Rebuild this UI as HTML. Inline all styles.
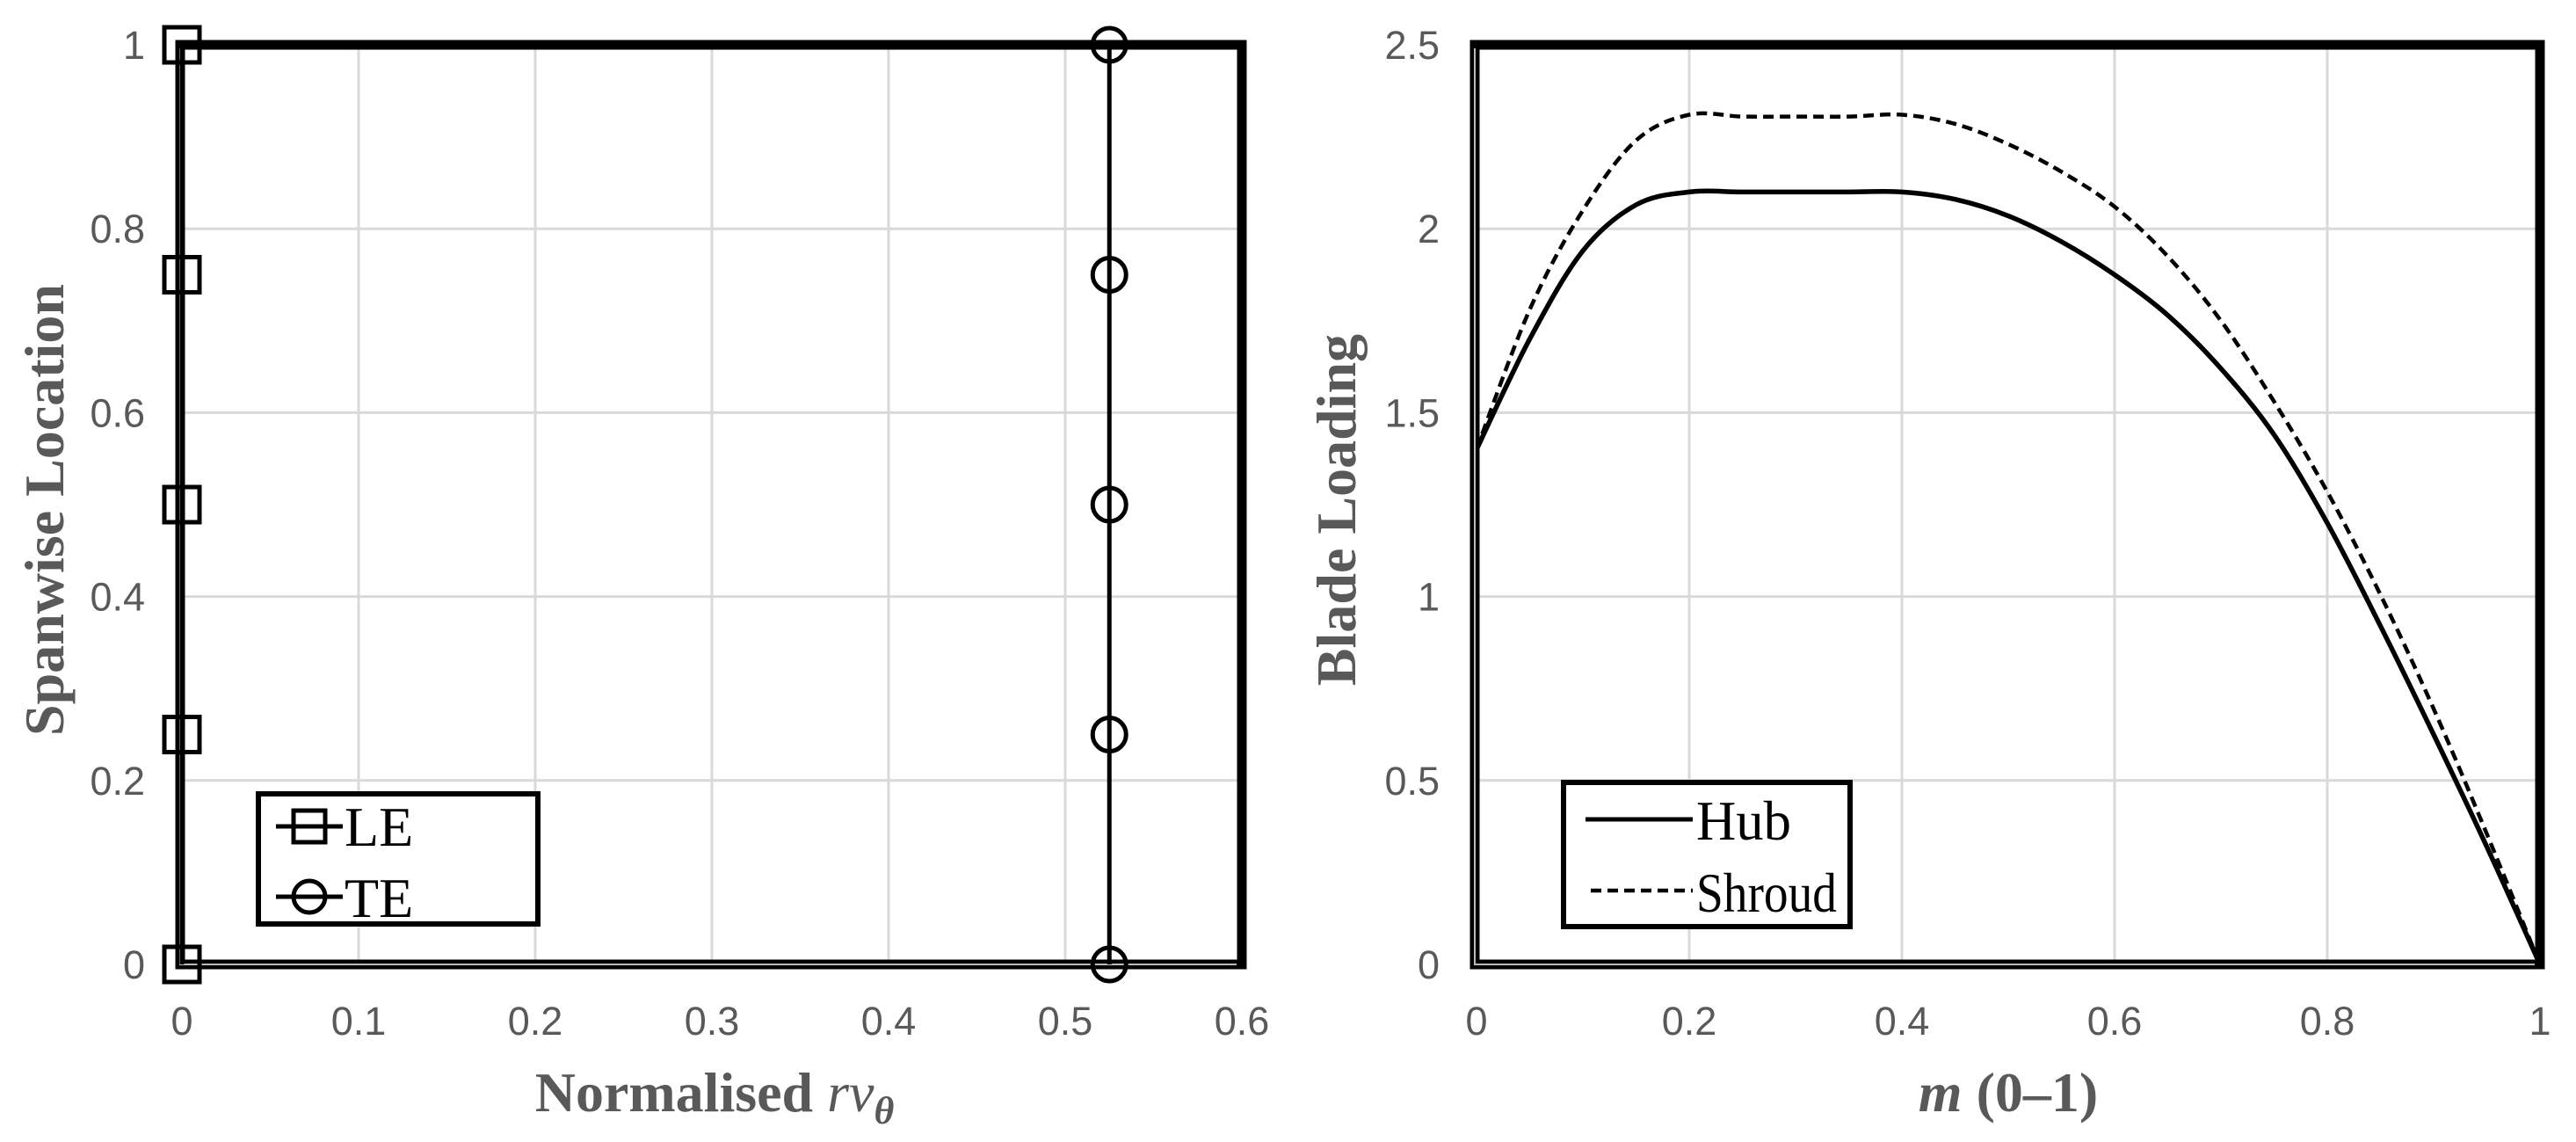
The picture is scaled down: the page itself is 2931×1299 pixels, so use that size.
<!DOCTYPE html>
<html><head><meta charset="utf-8">
<style>
html,body{margin:0;padding:0;background:#fff;}
svg{display:block;}
.tick{font-family:"Liberation Sans",sans-serif;font-size:45px;fill:#595959;}
.title{font-family:"Liberation Serif",serif;font-size:64px;font-weight:bold;fill:#595959;}
.leg{font-family:"Liberation Serif",serif;font-size:64px;fill:#000;}
</style></head>
<body>
<svg id="chart" width="2931" height="1299" viewBox="0 0 2931 1299" xmlns="http://www.w3.org/2000/svg">
</svg>
<script>
// Left chart data
const spanLocs = [0, 0.25, 0.5, 0.75, 1];
const leValues = [0, 0, 0, 0, 0];
const teValues = [0.525, 0.525, 0.525, 0.525, 0.525];
const leftXTicks = [0, 0.1, 0.2, 0.3, 0.4, 0.5, 0.6];
const leftYTicks = [0, 0.2, 0.4, 0.6, 0.8, 1];
const leftXLabels = ["0", "0.1", "0.2", "0.3", "0.4", "0.5", "0.6"];
const leftYLabels = ["0", "0.2", "0.4", "0.6", "0.8", "1"];
// Right chart data
const mValues = [0, 0.05, 0.1, 0.15, 0.2, 0.25, 0.3, 0.35, 0.4, 0.45, 0.5, 0.55, 0.6, 0.65, 0.7, 0.75, 0.8, 0.85, 0.9, 0.95, 1];
const hubValues = [1.4, 1.70, 1.94, 2.065, 2.10, 2.10, 2.10, 2.10, 2.10, 2.08, 2.035, 1.965, 1.875, 1.765, 1.62, 1.44, 1.2, 0.92, 0.625, 0.32, 0];
const shroudValues = [1.4, 1.78, 2.05, 2.24, 2.31, 2.305, 2.305, 2.305, 2.31, 2.285, 2.23, 2.155, 2.06, 1.925, 1.75, 1.53, 1.285, 1.005, 0.695, 0.355, 0];
const rightXTicks = [0, 0.2, 0.4, 0.6, 0.8, 1];
const rightYTicks = [0, 0.5, 1, 1.5, 2, 2.5];
const rightXLabels = ["0", "0.2", "0.4", "0.6", "0.8", "1"];
const rightYLabels = ["0", "0.5", "1", "1.5", "2", "2.5"];

const NS = "http://www.w3.org/2000/svg";
const svg = document.getElementById('chart');
function mk(tag, attrs, parent) {
  const e = document.createElementNS(NS, tag);
  for (const k in attrs) e.setAttribute(k, attrs[k]);
  (parent || svg).appendChild(e);
  return e;
}
const L = {x0: 207, x1: 1413, y0: 1097, y1: 51, xmax: 0.6, ymax: 1};
const R = {x0: 1680, x1: 2890, y0: 1097, y1: 51, xmax: 1, ymax: 2.5};
function sx(c, v) { return c.x0 + (c.x1 - c.x0) * v / c.xmax; }
function sy(c, v) { return c.y0 - (c.y0 - c.y1) * v / c.ymax; }

function drawAxes(c, xt, yt, xl, yl, prefix) {
  const g = mk('g', {});
  
  
  xt.forEach(v => { mk('line', {x1: sx(c, v), x2: sx(c, v), y1: c.y1, y2: c.y0, stroke: '#d9d9d9', 'stroke-width': 3}, g); });
  yt.forEach(v => { mk('line', {x1: c.x0, x2: c.x1, y1: sy(c, v), y2: sy(c, v), stroke: '#d9d9d9', 'stroke-width': 3}, g); });
  const tx = mk('g', {});
  
  
  xt.forEach((v, i) => { const t = mk('text', {x: sx(c, v), y: 1177, 'text-anchor': 'middle', class: 'tick'}, tx); t.textContent = xl[i]; });
  const ty = mk('g', {});
  
  
  yt.forEach((v, i) => { const t = mk('text', {x: c.x0 - 42, y: sy(c, v) + 16, 'text-anchor': 'end', class: 'tick'}, ty); t.textContent = yl[i]; });
}
function drawFrame(c, prefix) {
  const f = mk('rect', {x: c.x0 - 2, y: c.y1, width: c.x1 - c.x0 + 2, height: c.y0 - c.y1, fill: 'none', stroke: '#000', 'stroke-width': 11});
  
  
  mk('polyline', {points: `${c.x0 - 2},${c.y1 + 4} ${c.x0 - 2},${c.y0} ${c.x1 - 6},${c.y0}`, fill: 'none', stroke: '#bbb', 'stroke-width': 2});
}

// LEFT
drawAxes(L, leftXTicks, leftYTicks, leftXLabels, leftYLabels, 'left');
drawFrame(L, 'left');
function series(vals, marker, name) {
  const g = mk('g', {});
  
  
  const pts = vals.map((v, i) => sx(L, v) + ',' + sy(L, spanLocs[i])).join(' ');
  mk('polyline', {points: pts, fill: 'none', stroke: '#000', 'stroke-width': 5}, g);
  vals.forEach((v, i) => {
    const x = sx(L, v), y = sy(L, spanLocs[i]);
    let m;
    if (marker === 'sq') m = mk('rect', {x: x - 20, y: y - 20, width: 40, height: 40, fill: 'none', stroke: '#000', 'stroke-width': 5}, g);
    else m = mk('circle', {cx: x, cy: y, r: 19, fill: 'none', stroke: '#000', 'stroke-width': 5}, g);
    
    
  });
}
series(leValues, 'sq', 'le-series');
series(teValues, 'ci', 'te-series');

// left legend
const lg = mk('g', {});


mk('rect', {x: 294, y: 903, width: 318, height: 148, fill: '#fff', stroke: '#000', 'stroke-width': 6}, lg);
mk('line', {x1: 314, x2: 390, y1: 940, y2: 940, stroke: '#000', 'stroke-width': 5}, lg);
mk('rect', {x: 334, y: 922, width: 36, height: 36, fill: 'none', stroke: '#000', 'stroke-width': 5}, lg);
mk('line', {x1: 314, x2: 390, y1: 1020, y2: 1020, stroke: '#000', 'stroke-width': 5}, lg);
mk('circle', {cx: 352, cy: 1020, r: 18, fill: 'none', stroke: '#000', 'stroke-width': 5}, lg);
let t = mk('text', {x: 392, y: 962, class: 'leg'}, lg); t.textContent = 'LE';
t = mk('text', {x: 392, y: 1043, class: 'leg'}, lg); t.textContent = 'TE';

// left titles
t = mk('text', {x: 813, y: 1264, 'text-anchor': 'middle', class: 'title'});


t.innerHTML = 'Normalised <tspan font-style="italic" font-weight="normal">rv</tspan><tspan font-style="italic" font-size="44" dy="14">θ</tspan>';
t = mk('text', {x: 0, y: 0, 'text-anchor': 'middle', class: 'title', transform: 'translate(72,580) rotate(-90)'});


t.textContent = 'Spanwise Location';

// RIGHT
drawAxes(R, rightXTicks, rightYTicks, rightXLabels, rightYLabels, 'right');
function smoothPath(xs, ys) {
  const p = xs.map((x, i) => [sx(R, x), sy(R, ys[i])]);
  let d = `M${p[0][0]},${p[0][1]}`;
  for (let i = 0; i < p.length - 1; i++) {
    const p0 = p[Math.max(0, i - 1)], p1 = p[i], p2 = p[i + 1], p3 = p[Math.min(p.length - 1, i + 2)];
    const c1 = [p1[0] + (p2[0] - p0[0]) / 6, p1[1] + (p2[1] - p0[1]) / 6];
    const c2 = [p2[0] - (p3[0] - p1[0]) / 6, p2[1] - (p3[1] - p1[1]) / 6];
    d += ` C${c1[0]},${c1[1]} ${c2[0]},${c2[1]} ${p2[0]},${p2[1]}`;
  }
  return d;
}
let s = mk('path', {d: smoothPath(mValues, shroudValues), fill: 'none', stroke: '#000', 'stroke-width': 4.5, 'stroke-dasharray': '12 7'});


s = mk('path', {d: smoothPath(mValues, hubValues), fill: 'none', stroke: '#000', 'stroke-width': 5.5});


drawFrame(R, 'right');

const rg = mk('g', {});


mk('rect', {x: 1779, y: 890, width: 326, height: 164, fill: '#fff', stroke: '#000', 'stroke-width': 6}, rg);
mk('line', {x1: 1804, x2: 1926, y1: 932, y2: 932, stroke: '#000', 'stroke-width': 5}, rg);
mk('line', {x1: 1810, x2: 1926, y1: 1013, y2: 1013, stroke: '#000', 'stroke-width': 4.5, 'stroke-dasharray': '12 7'}, rg);
t = mk('text', {x: 1930, y: 955, class: 'leg', textLength: 108, lengthAdjust: 'spacingAndGlyphs'}, rg); t.textContent = 'Hub';
t = mk('text', {x: 1930, y: 1037, class: 'leg', textLength: 160, lengthAdjust: 'spacingAndGlyphs'}, rg); t.textContent = 'Shroud';

t = mk('text', {x: 2285, y: 1264, 'text-anchor': 'middle', class: 'title'});


t.innerHTML = '<tspan font-style="italic">m</tspan> (0–1)';
t = mk('text', {x: 0, y: 0, 'text-anchor': 'middle', class: 'title', transform: 'translate(1542,580) rotate(-90)'});


t.textContent = 'Blade Loading';
</script>
</body></html>
